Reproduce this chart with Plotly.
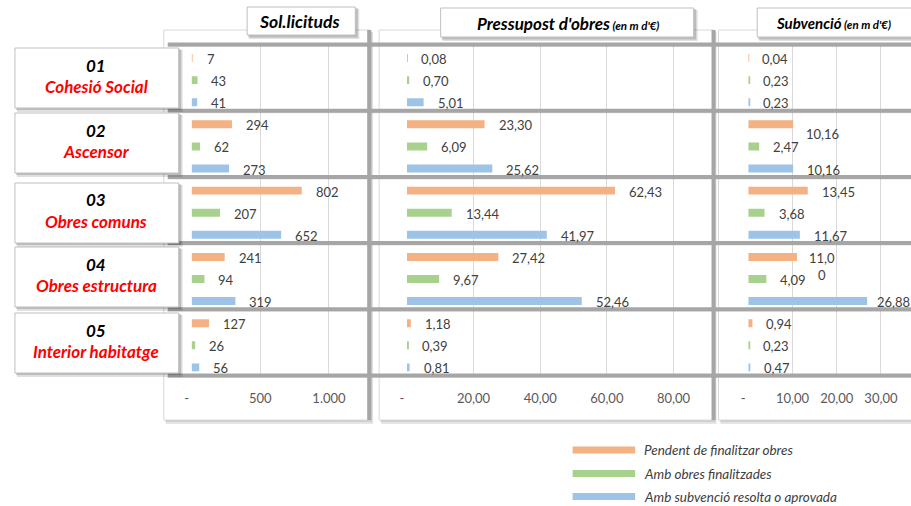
import plotly.graph_objects as go

# ---- data -------------------------------------------------------------
codes = ["01", "02", "03", "04", "05"]
names = ["Cohesió Social", "Ascensor", "Obres comuns", "Obres estructura", "Interior habitatge"]
series = ["Pendent de finalitzar obres", "Amb obres finalitzades", "Amb subvenció resolta o aprovada"]

solicituds_pendent = [7, 294, 802, 241, 127]
solicituds_finalitzades = [43, 62, 207, 94, 26]
solicituds_aprovada = [41, 273, 652, 319, 56]

pressupost_pendent = [0.08, 23.30, 62.43, 27.42, 1.18]
pressupost_finalitzades = [0.70, 6.09, 13.44, 9.67, 0.39]
pressupost_aprovada = [5.01, 25.62, 41.97, 52.46, 0.81]

subvencio_pendent = [0.04, 10.16, 13.45, 11.00, 0.94]
subvencio_finalitzades = [0.23, 2.47, 3.68, 4.09, 0.23]
subvencio_aprovada = [0.23, 10.16, 11.67, 26.88, 0.47]

sol_ticks = [0, 500, 1000]
sol_ticktext = ["-", "500", "1.000"]
pre_ticks = [0, 20, 40, 60, 80]
pre_ticktext = ["-", "20,00", "40,00", "60,00", "80,00"]
sub_ticks = [0, 10, 20, 30]
sub_ticktext = ["-", "10,00", "20,00", "30,00"]

# ---- styling ----------------------------------------------------------
W, H = 911, 506
FONT = "Lato"
colors = ["#F4B183", "#A9D18E", "#9DC3E6"]
SEP = "#A6A6A6"
LABEL = "#404040"
NBSP = "\u00a0"


def fx(px):
    return px / W


def fy(py):
    return 1 - py / H


def fmt_int(v):
    return f"{v:,}".replace(",", ".")


def fmt_dec(v):
    return f"{v:.2f}".replace(".", ",")


panels = [
    dict(ax="x", key="sol", data=[solicituds_pendent, solicituds_finalitzades, solicituds_aprovada],
         fmt=fmt_int, dom=(186, 366), rng=(0, 1300), ticks=sol_ticks, ticktext=sol_ticktext),
    dict(ax="x2", key="pre", data=[pressupost_pendent, pressupost_finalitzades, pressupost_aprovada],
         fmt=fmt_dec, dom=(403, 712), rng=(0, 92), ticks=pre_ticks, ticktext=pre_ticktext),
    dict(ax="x3", key="sub", data=[subvencio_pendent, subvencio_finalitzades, subvencio_aprovada],
         fmt=fmt_dec, dom=(747, 911), rng=(0, 36.8), ticks=sub_ticks, ticktext=sub_ticktext),
]

# label placement adjustments (panel, category, series)
label_shift = {
    ("sub", 1, 0): dict(yshift=-10, xshift=11),
    ("sub", 3, 0): dict(yshift=-10, xshift=10, wrap=True),
    ("sub", 3, 2): dict(xshift=8),
}

fig = go.Figure()
annotations = []

for p in panels:
    for s in range(3):
        ys = [3 * c + s for c in range(len(codes))]
        fig.add_trace(go.Bar(
            x=p["data"][s], y=ys, orientation="h", width=0.36,
            marker=dict(color=colors[s], line=dict(width=0)),
            xaxis=p["ax"], yaxis="y", showlegend=False, hoverinfo="x",
        ))
        for c, v in enumerate(p["data"][s]):
            txt = p["fmt"](v)
            opt = label_shift.get((p["key"], c, s), {})
            if opt.get("wrap"):
                txt = txt[:-1] + "<br>" + txt[-1]
            annotations.append(dict(
                x=v, y=3 * c + s, xref=p["ax"], yref="y", text=txt, showarrow=False,
                xanchor="left", yanchor="middle", align="center",
                xshift=opt.get("xshift", 12), yshift=opt.get("yshift", -1),
                font=dict(family=FONT, size=13, color=LABEL),
            ))

# ---- frames, separators and boxes --------------------------------------
shapes = []


def rect(x0, y0, x1, y1, fill, line=None, lw=0, layer="above"):
    shapes.append(dict(type="rect", xref="paper", yref="paper",
                       x0=fx(x0), x1=fx(x1), y0=fy(y1), y1=fy(y0),
                       fillcolor=fill, line=dict(color=line or fill, width=lw), layer=layer))


def line(x0, y0, x1, y1, color, width, layer="above"):
    shapes.append(dict(type="line", xref="paper", yref="paper",
                       x0=fx(x0), x1=fx(x1), y0=fy(y0), y1=fy(y1),
                       line=dict(color=color, width=width), layer=layer))


def text(px, py, txt, size, color, anchor="center"):
    annotations.append(dict(x=fx(px), y=fy(py), xref="paper", yref="paper",
                            text=txt, showarrow=False, xanchor=anchor, yanchor="middle",
                            font=dict(family=FONT, size=size, color=color)))


# white panels with soft shadow
for x0, x1 in [(158, 366), (375, 712), (717, 916)]:
    rect(x0 + 2, 32, x1 + 3, 424, "rgba(0,0,0,0.10)", layer="below")
    rect(x0 + 1, 31, x1 + 2, 422, "rgba(0,0,0,0.10)", layer="below")
    rect(x0, 30, x1, 420, "white", "#D9D9D9", 1, layer="below")

# thick row separators and column dividers
for k in range(6):
    yy = 44.5 + 66.2 * k
    line(162, yy + 1.5, 911, yy + 1.5, "rgba(0,0,0,0.12)", 2)
    line(162, yy, 911, yy, SEP, 4)
for xx in (365, 712):
    line(xx, 30, xx, 420, SEP, 4)

# category boxes
box_tops = [48, 113, 183, 247, 313]
for c, top in enumerate(box_tops):
    rect(10, top + 2, 177, top + 64, "rgba(0,0,0,0.12)")
    rect(9, top + 1, 175.5, top + 62, "rgba(0,0,0,0.16)")
    rect(8, top, 173, top + 60, "white", "#BFBFBF", 1)
    text(90, top + 17, f"<b><i>{codes[c]}</i></b>", 17, "black")
    text(90, top + 38.5, f"<b><i>{names[c]}</i></b>", 17, "#FF0000")

# column header boxes
small = "<span style='font-size:11.5px'><b><i> (en m d'€)</i></b></span>"
headers = [
    ((242, 351, 7, 35), "<b><i>Sol.licituds</i></b>", 295, 17.5),
    ((437, 692, 8, 37), "<b><i>Pressupost d'obres</i></b>" + small, 565, 17),
    ((756, 925, 8, 37), "<b><i>Subvenció</i></b>" + small, 833, 15),
]
for (x0, x1, y0, y1), txt, cx, size in headers:
    rect(x0 + 2, y0 + 2, x1 + 4, y1 + 4, "rgba(0,0,0,0.12)")
    rect(x0 + 1, y0 + 1, x1 + 2.5, y1 + 2.5, "rgba(0,0,0,0.16)")
    rect(x0, y0, x1, y1, "white", "#BFBFBF", 1)
    text(cx, (y0 + y1) / 2 + 1, txt, size, "black")

# legend
for s, yy in enumerate([450, 473.5, 496.5]):
    rect(570, yy - 3.5, 633, yy + 3.5, colors[s])
    text(640, yy, f"<i>{series[s]}</i>", 13.5, LABEL, anchor="left")

# ---- axes ---------------------------------------------------------------
layout_axes = {}
for i, p in enumerate(panels):
    name = "xaxis" if i == 0 else f"xaxis{i + 1}"
    ticktext = [("-" + NBSP * 3) if t == "-" else t for t in p["ticktext"]]
    layout_axes[name] = dict(
        domain=[fx(p["dom"][0]), fx(p["dom"][1])], range=list(p["rng"]), anchor="y",
        tickvals=p["ticks"], ticktext=ticktext, showgrid=True, gridcolor="#D9D9D9",
        gridwidth=1, zeroline=False, showline=False, ticks="", ticklabelstandoff=13,
        tickfont=dict(family=FONT, size=13, color="#595959"), fixedrange=True,
    )

fig.update_layout(
    width=W, height=H, margin=dict(l=0, r=0, t=0, b=0),
    paper_bgcolor="white", plot_bgcolor="rgba(0,0,0,0)",
    yaxis=dict(domain=[fy(376), fy(45)], range=[14.39, -0.59], visible=False, fixedrange=True),
    barmode="overlay", showlegend=False,
    shapes=shapes, annotations=annotations,
    **layout_axes,
)

fig.write_html("out.html")
